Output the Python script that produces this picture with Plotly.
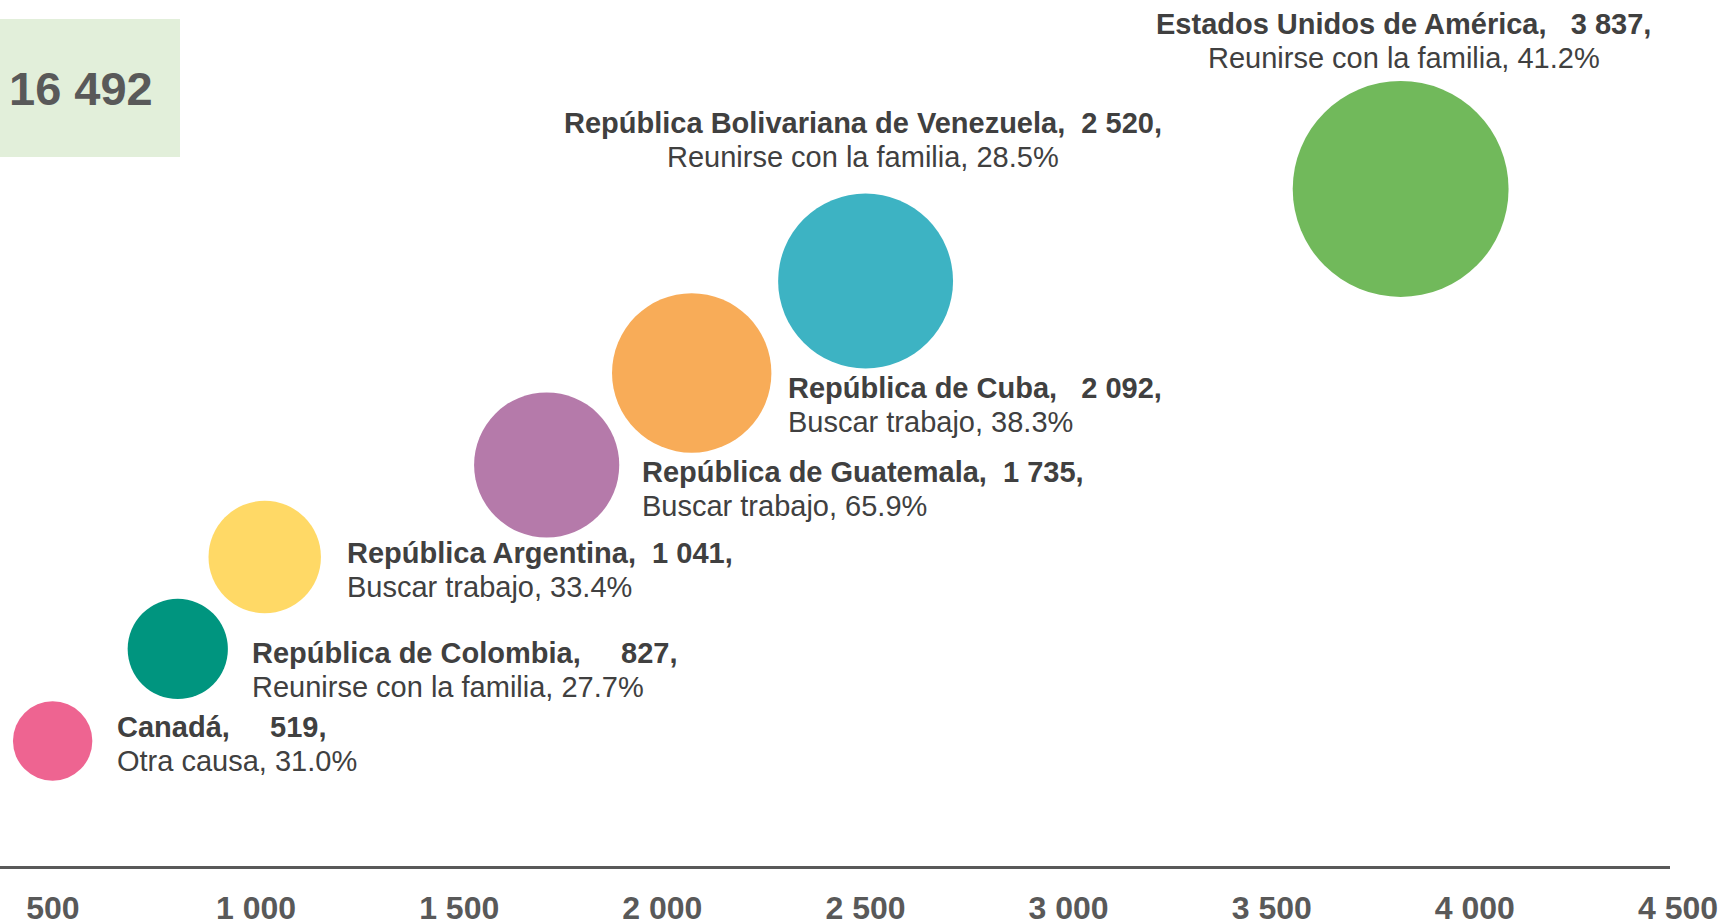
import plotly.graph_objects as go

# data
countries = [
    "Canadá",
    "República de Colombia",
    "República Argentina",
    "República de Guatemala",
    "República de Cuba",
    "República Bolivariana de Venezuela",
    "Estados Unidos de América",
]
migrants = [519, 827, 1041, 1735, 2092, 2520, 3837]
main_reason = [
    "Otra causa",
    "Reunirse con la familia",
    "Buscar trabajo",
    "Buscar trabajo",
    "Buscar trabajo",
    "Reunirse con la familia",
    "Reunirse con la familia",
]
reason_pct = [31.0, 27.7, 33.4, 65.9, 38.3, 28.5, 41.2]
row = [1, 2, 3, 4, 5, 6, 7]
total = 16492
tick_vals = [500, 1000, 1500, 2000, 2500, 3000, 3500, 4000, 4500]

colors = ["#EE6491", "#00957F", "#FFD966", "#B57AAA", "#F8AC58", "#3DB3C3", "#71B95B"]

# label placement (px from bubble centre): anchor, dx, baseline dy, spaces before value
label_pos = [
    ("left", 64, -4, 5),
    ("left", 74, 14, 5),
    ("left", 82, 6, 2),
    ("left", 95, 17, 2),
    ("left", 96, 25, 3),
    ("center", -3, -148, 2),
    ("center", 3, -155, 3),
]

FONT = "Liberation Sans, Arial, sans-serif"
TXT = "#404040"
GREY = "#595959"
LABEL_SIZE = 29
LINE_GAP = 34
PLOT_H = 866


def fmt(v):
    return f"{v:,}".replace(",", " ")


fig = go.Figure()
fig.add_trace(
    go.Scatter(
        x=migrants,
        y=row,
        mode="markers",
        marker=dict(
            size=migrants,
            sizemode="area",
            sizeref=0.1647,
            color=colors,
            opacity=1,
            line=dict(width=0),
        ),
        cliponaxis=False,
        showlegend=False,
        hoverinfo="skip",
    )
)

annotations = []
for name, val, reason, pct, r, (anchor, dx, dy, gap) in zip(
    countries, migrants, main_reason, reason_pct, row, label_pos
):
    line1 = f"<b>{name},{chr(160) * gap}{fmt(val)},</b>"
    line2 = f"{reason}, {pct:.1f}%"
    for i, txt in enumerate([line1, line2]):
        base = dy + i * LINE_GAP
        annotations.append(
            dict(
                x=val,
                y=r,
                xref="x",
                yref="y",
                text=txt,
                showarrow=False,
                xanchor=anchor,
                yanchor="middle",
                xshift=dx - 2 if anchor == "left" else dx,
                yshift=10 - base,
                font=dict(family=FONT, size=LABEL_SIZE, color=TXT),
            )
        )

annotations.append(
    dict(
        x=7 / 1722,
        y=1 - 88 / PLOT_H,
        xref="paper",
        yref="paper",
        text=f"<b>{fmt(total)}</b>",
        showarrow=False,
        xanchor="left",
        yanchor="middle",
        font=dict(family=FONT, size=47, color=GREY),
    )
)

fig.update_layout(
    width=1722,
    height=922,
    margin=dict(l=0, r=0, t=0, b=922 - PLOT_H, autoexpand=False),
    paper_bgcolor="white",
    plot_bgcolor="white",
    annotations=annotations,
    shapes=[
        dict(
            type="rect",
            xref="paper",
            yref="paper",
            x0=0,
            x1=180 / 1722,
            y0=1 - 157 / PLOT_H,
            y1=1 - 19 / PLOT_H,
            fillcolor="#E2EFDA",
            line=dict(width=0),
            layer="below",
        )
    ],
)

fig.update_xaxes(
    range=[389.4, 4500],
    domain=[0, 1670 / 1722],
    automargin=False,
    showgrid=False,
    zeroline=False,
    showline=True,
    linecolor=GREY,
    linewidth=3,
    ticks="",
    tickvals=tick_vals,
    ticktext=[f"<b>{fmt(v)}</b>" for v in tick_vals],
    tickfont=dict(family=FONT, size=32, color=GREY),
    ticklabelstandoff=12,
    ticklabelshift=8,
)
fig.update_yaxes(
    range=[-0.359, 9.054],
    automargin=False,
    showgrid=False,
    zeroline=False,
    showline=False,
    showticklabels=False,
)

fig.write_html(
    "out.html",
    config={"displayModeBar": False},
    post_script="document.body.style.margin='0';document.body.style.overflow='hidden';",
)
